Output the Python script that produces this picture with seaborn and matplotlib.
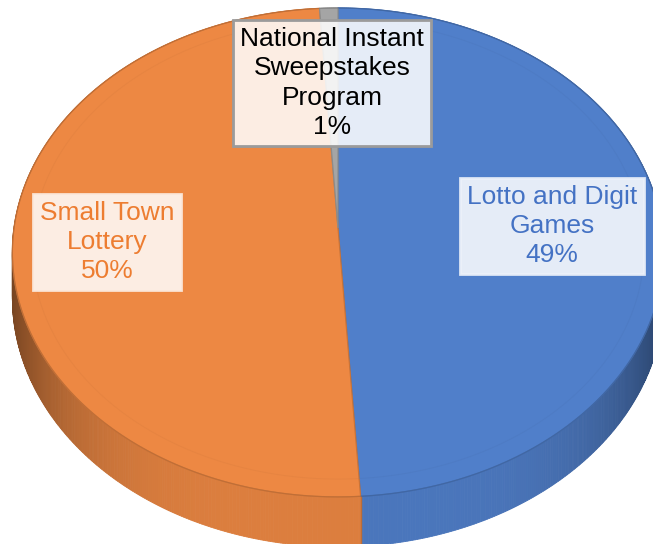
import numpy as np
import matplotlib
matplotlib.use("Agg")
import matplotlib.pyplot as plt
import seaborn as sns
from matplotlib.patches import Polygon
from matplotlib.colors import to_rgb

# ---- data ----
categories = ["Lotto and Digit\nGames", "Small Town\nLottery", "National Instant\nSweepstakes\nProgram"]
values = [49, 50, 1]
slice_colors = ["#507FCA", "#ED8843", "#A5A5A5"]
text_colors = ["#4472C4", "#ED7D31", "#000000"]
label_pos = [(552, 226), (107, 242), (332, 83)]

sns.set_theme(style="white")
plt.rcParams['font.family'] = ['Liberation Sans', 'DejaVu Sans']

fig = plt.figure(figsize=(6.53, 5.44), dpi=100)
ax = fig.add_axes([0, 0, 1, 1])
ax.set_xlim(0, 653)
ax.set_ylim(544, 0)
ax.axis('off')

XC, YC, A, B, P, D = 338, 228, 324, 242, 0.1, 45


def proj(theta, r=1.0, dz=0.0):
    u = r * np.sin(theta)
    v = -r * np.cos(theta)
    s = 1.0 / (1.0 - P * v)
    return XC + A * u * s, YC + B * v * s + D * dz * s


fracs = np.array(values, dtype=float) / np.sum(values)
bounds = np.concatenate([[0], np.cumsum(fracs)]) * 2 * np.pi
pal = [np.array(to_rgb(c)) for c in sns.color_palette(slice_colors)]


def slice_of(th):
    for i in range(len(values)):
        if bounds[i] <= th < bounds[i + 1]:
            return i
    return len(values) - 1

# ---- side wall ----
n = 900
ths = np.linspace(0, 2 * np.pi, n + 1)
segs = []
for k in range(n):
    t0, t1 = ths[k], ths[k + 1]
    tm = (t0 + t1) / 2
    i = slice_of(tm)
    shade = 0.93 - 0.45 * abs(np.sin(tm)) ** 4
    col = np.clip(pal[i] * shade, 0, 1)
    x0, y0 = proj(t0)
    x1, y1 = proj(t1)
    x2, y2 = proj(t1, dz=1)
    x3, y3 = proj(t0, dz=1)
    segs.append((-np.cos(tm), [(x0, y0), (x1, y1), (x2, y2), (x3, y3)], col))
segs.sort(key=lambda s: s[0])
for _, pts, col in segs:
    ax.add_patch(Polygon(pts, closed=True, fc=col, ec=col, lw=0.6))

# vertical seams on the wall at slice boundaries in front
for b in bounds[1:-1]:
    if -np.cos(b) > 0:
        xa, ya = proj(b)
        xb, yb = proj(b, dz=1)
        ax.plot([xa, xb], [ya, yb], color=pal[1] * 0.8, lw=1.0)

# ---- top face ----
for i in range(len(values)):
    tt = np.linspace(bounds[i], bounds[i + 1], 200)
    xs, ys = proj(tt)
    pts = [(XC, YC)] + list(zip(xs, ys))
    ax.add_patch(Polygon(pts, closed=True, fc=pal[i], ec=np.clip(pal[i] * 0.85, 0, 1), lw=0.9))
    # faint bevel line
    xb, yb = proj(tt, r=0.94)
    ax.plot(xb, yb, color=np.clip(pal[i] * 0.92, 0, 1), lw=0.7, alpha=0.35)
    # front rim
    ax.plot(xs, ys, color=np.clip(pal[i] * 0.8, 0, 1), lw=0.8, alpha=0.8)

# ---- labels ----
edge_cols = [(0.93, 0.95, 0.98, 0.9), (0.99, 0.93, 0.89, 0.9), "#9B9B9B"]
for i in range(len(values)):
    x, y = label_pos[i]
    ax.text(x, y, f"{categories[i]}\n{values[i]}%", ha="center", va="center",
            fontsize=19, color=text_colors[i], linespacing=1.28,
            bbox=dict(boxstyle="square,pad=0.26", fc=(1, 1, 1, 0.86),
                      ec=edge_cols[i], lw=2))

fig.savefig("out.png", dpi=100)
